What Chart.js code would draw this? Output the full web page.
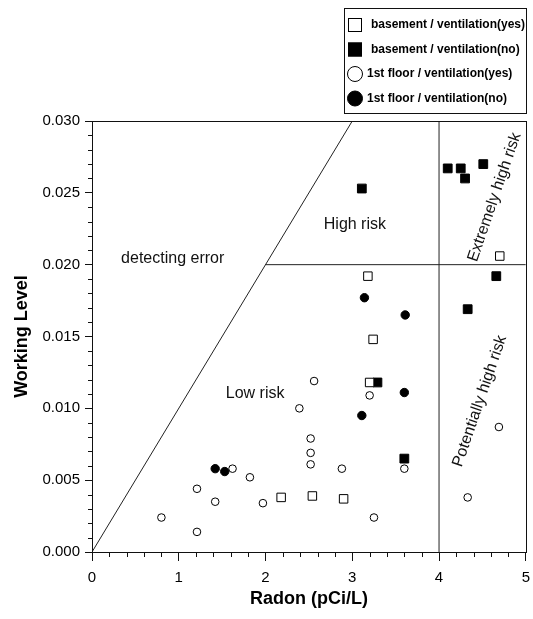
<!DOCTYPE html>
<html>
<head>
<meta charset="UTF-8">
<title>Radon vs Working Level</title>
<script src="https://cdn.jsdelivr.net/npm/chart.js"></script>
<style>
  html, body { margin: 0; padding: 0; background: #fff; }
</style>
</head>
<body>
<canvas id="chart" width="533" height="619"></canvas>
<script>
// values (x = Radon pCi/L, y = Working Level)
const seriesNames = [
  'basement / ventilation(yes)',
  'basement / ventilation(no)',
  '1st floor / ventilation(yes)',
  '1st floor / ventilation(no)'
];

const basementYes = [
  {x: 3.18, y: 0.0192}, {x: 3.24, y: 0.0148}, {x: 3.20, y: 0.0118},
  {x: 4.70, y: 0.0206}, {x: 2.18, y: 0.0038}, {x: 2.54, y: 0.0039},
  {x: 2.90, y: 0.0037}
];
const basementNo = [
  {x: 3.11, y: 0.0253}, {x: 4.10, y: 0.0267}, {x: 4.25, y: 0.0267},
  {x: 4.30, y: 0.0260}, {x: 4.51, y: 0.0270}, {x: 4.66, y: 0.0192},
  {x: 4.33, y: 0.0169}, {x: 3.29, y: 0.0118}, {x: 3.60, y: 0.0065}
];
const floorYes = [
  {x: 3.20, y: 0.0109}, {x: 2.56, y: 0.0119}, {x: 2.39, y: 0.0100},
  {x: 4.69, y: 0.0087}, {x: 2.52, y: 0.0079}, {x: 2.52, y: 0.0069},
  {x: 2.52, y: 0.0061}, {x: 1.62, y: 0.0058}, {x: 2.88, y: 0.0058},
  {x: 3.60, y: 0.0058}, {x: 1.82, y: 0.0052}, {x: 1.21, y: 0.0044},
  {x: 1.42, y: 0.0035}, {x: 0.80, y: 0.0024}, {x: 1.21, y: 0.0014},
  {x: 1.97, y: 0.0034}, {x: 3.25, y: 0.0024}, {x: 4.33, y: 0.0038}
];
const floorNo = [
  {x: 3.14, y: 0.0177}, {x: 3.61, y: 0.0165}, {x: 3.60, y: 0.0111},
  {x: 3.11, y: 0.0095}, {x: 1.42, y: 0.0058}, {x: 1.53, y: 0.0056}
];

// zone boundaries
const detectLine = [{x: 0, y: 0}, {x: 3, y: 0.030}];
const riskLine = [{x: 2, y: 0.020}, {x: 5, y: 0.020}];
const actionLine = [{x: 4, y: 0}, {x: 4, y: 0.030}];

// zone labels
const zoneText = ['detecting error', 'High risk', 'Low risk', 'Extremely high risk', 'Potentially high risk'];
const zoneX = [0.93, 3.03, 1.88, 4.64, 4.47];
const zoneY = [0.0204, 0.0228, 0.0110, 0.0247, 0.0105];

const xMajorTicks = [0, 1, 2, 3, 4, 5];
const yMajorTicks = [0, 0.005, 0.010, 0.015, 0.020, 0.025, 0.030];

const FONT = "'Liberation Sans', Arial, sans-serif";

function isMajor(v, list) {
  return list.some(m => Math.abs(m - v) < 1e-9);
}

// frame, minor ticks, zone labels, boxed legend
const extras = {
  id: 'extras',
  afterDatasetsDraw(chart) {
    const c = chart.ctx;
    const xs = chart.scales.x, ys = chart.scales.y;
    c.save();
    c.fillStyle = '#111';
    c.font = '16px ' + FONT;
    c.textAlign = 'center';
    c.textBaseline = 'middle';
    zoneText.forEach((t, i) => {
      const px = xs.getPixelForValue(zoneX[i]);
      const py = ys.getPixelForValue(zoneY[i]);
      c.save();
      c.translate(px, py);
      if (zoneX[i] > 4) c.rotate(-71 * Math.PI / 180);
      c.fillText(t, 0, 0);
      c.restore();
    });
    c.restore();
  },
  afterDraw(chart) {
    const c = chart.ctx;
    const a = chart.chartArea;
    const xs = chart.scales.x, ys = chart.scales.y;
    c.save();
    c.strokeStyle = '#111';
    c.lineWidth = 1;
    c.strokeRect(Math.round(a.left) + 0.5, Math.round(a.top) + 0.5,
      Math.round(a.right - a.left), Math.round(a.bottom - a.top));

    // minor ticks
    c.beginPath();
    xs.ticks.forEach(t => {
      if (isMajor(t.value, xMajorTicks)) return;
      const px = Math.round(xs.getPixelForValue(t.value)) + 0.5;
      c.moveTo(px, a.bottom);
      c.lineTo(px, a.bottom + 5);
    });
    ys.ticks.forEach(t => {
      if (isMajor(t.value, yMajorTicks)) return;
      const py = Math.round(ys.getPixelForValue(t.value)) + 0.5;
      c.moveTo(a.left, py);
      c.lineTo(a.left - 4, py);
    });
    c.stroke();

    // legend box
    const boxW = 182, boxH = 105;
    const bx = Math.round(a.right) - boxW, by = 8;
    c.strokeRect(bx + 0.5, by + 0.5, boxW, boxH);
    c.font = 'bold 12px ' + FONT;
    c.textBaseline = 'middle';
    c.textAlign = 'left';
    chart.data.datasets.slice(0, 4).forEach((ds, i) => {
      const cy = by + 17 + i * 24.5;
      const cx = bx + 11;
      c.fillStyle = ds.backgroundColor;
      c.strokeStyle = ds.borderColor;
      c.lineWidth = 1;
      if (ds.pointStyle === 'rect') {
        c.fillRect(cx - 7, cy - 7, 14, 14);
        c.strokeRect(cx - 6.5, cy - 6.5, 13, 13);
      } else {
        c.beginPath();
        c.arc(cx, cy, 7.5, 0, Math.PI * 2);
        c.fill();
        c.stroke();
      }
      c.fillStyle = '#000';
      c.fillText(ds.label, bx + (ds.pointStyle === 'rect' ? 27 : 23), cy);
    });
    c.restore();
  }
};

function pointSet(label, data, style, filled, radius) {
  return {
    label: label,
    data: data,
    pointStyle: style,
    pointRadius: radius,
    pointHoverRadius: radius,
    pointBorderWidth: 1,
    borderColor: '#000',
    backgroundColor: filled ? '#000' : '#fff',
    showLine: false
  };
}

function zoneSet(data) {
  return {
    label: '',
    data: data,
    showLine: true,
    borderColor: '#222',
    borderWidth: 1,
    pointRadius: 0,
    fill: false
  };
}

new Chart(document.getElementById('chart'), {
  type: 'scatter',
  data: {
    datasets: [
      pointSet(seriesNames[0], basementYes, 'rect', false, 6),
      pointSet(seriesNames[1], basementNo, 'rect', true, 6.2),
      pointSet(seriesNames[2], floorYes, 'circle', false, 3.8),
      pointSet(seriesNames[3], floorNo, 'circle', true, 4.2),
      zoneSet(detectLine),
      zoneSet(riskLine),
      zoneSet(actionLine)
    ]
  },
  options: {
    responsive: false,
    devicePixelRatio: 1,
    animation: false,
    layout: { padding: { top: 121, right: 6, bottom: 0, left: 0 } },
    plugins: {
      legend: { display: false },
      tooltip: { enabled: false }
    },
    scales: {
      x: {
        type: 'linear',
        min: 0,
        max: 5,
        afterFit: s => { s.height = 67; s.paddingRight = 0; s.paddingLeft = 0; },
        border: { display: false },
        grid: {
          drawOnChartArea: false,
          tickLength: 9,
          color: ctx => isMajor(ctx.tick.value, xMajorTicks) ? '#111' : 'rgba(0,0,0,0)'
        },
        ticks: {
          stepSize: 0.2,
          autoSkip: false,
          maxRotation: 0,
          padding: 8,
          color: '#000',
          font: { family: FONT, size: 15 },
          callback: v => isMajor(v, xMajorTicks) ? String(Math.round(v)) : ''
        },
        title: {
          display: true,
          text: 'Radon (pCi/L)',
          color: '#000',
          font: { family: FONT, size: 18, weight: 'bold' },
          padding: { top: 0, bottom: 9 }
        }
      },
      y: {
        type: 'linear',
        min: 0,
        max: 0.030,
        afterFit: s => { s.width = 92; },
        border: { display: false },
        grid: {
          drawOnChartArea: false,
          tickLength: 7,
          color: ctx => isMajor(ctx.tick.value, yMajorTicks) ? '#111' : 'rgba(0,0,0,0)'
        },
        ticks: {
          stepSize: 0.001,
          autoSkip: false,
          padding: 5,
          color: '#000',
          font: { family: FONT, size: 15 },
          callback: v => isMajor(v, yMajorTicks) ? v.toFixed(3) : ''
        },
        title: {
          display: true,
          text: 'Working Level',
          color: '#000',
          font: { family: FONT, size: 18, weight: 'bold' },
          padding: { top: 11, bottom: 0 }
        }
      }
    }
  },
  plugins: [extras]
});
</script>
</body>
</html>
